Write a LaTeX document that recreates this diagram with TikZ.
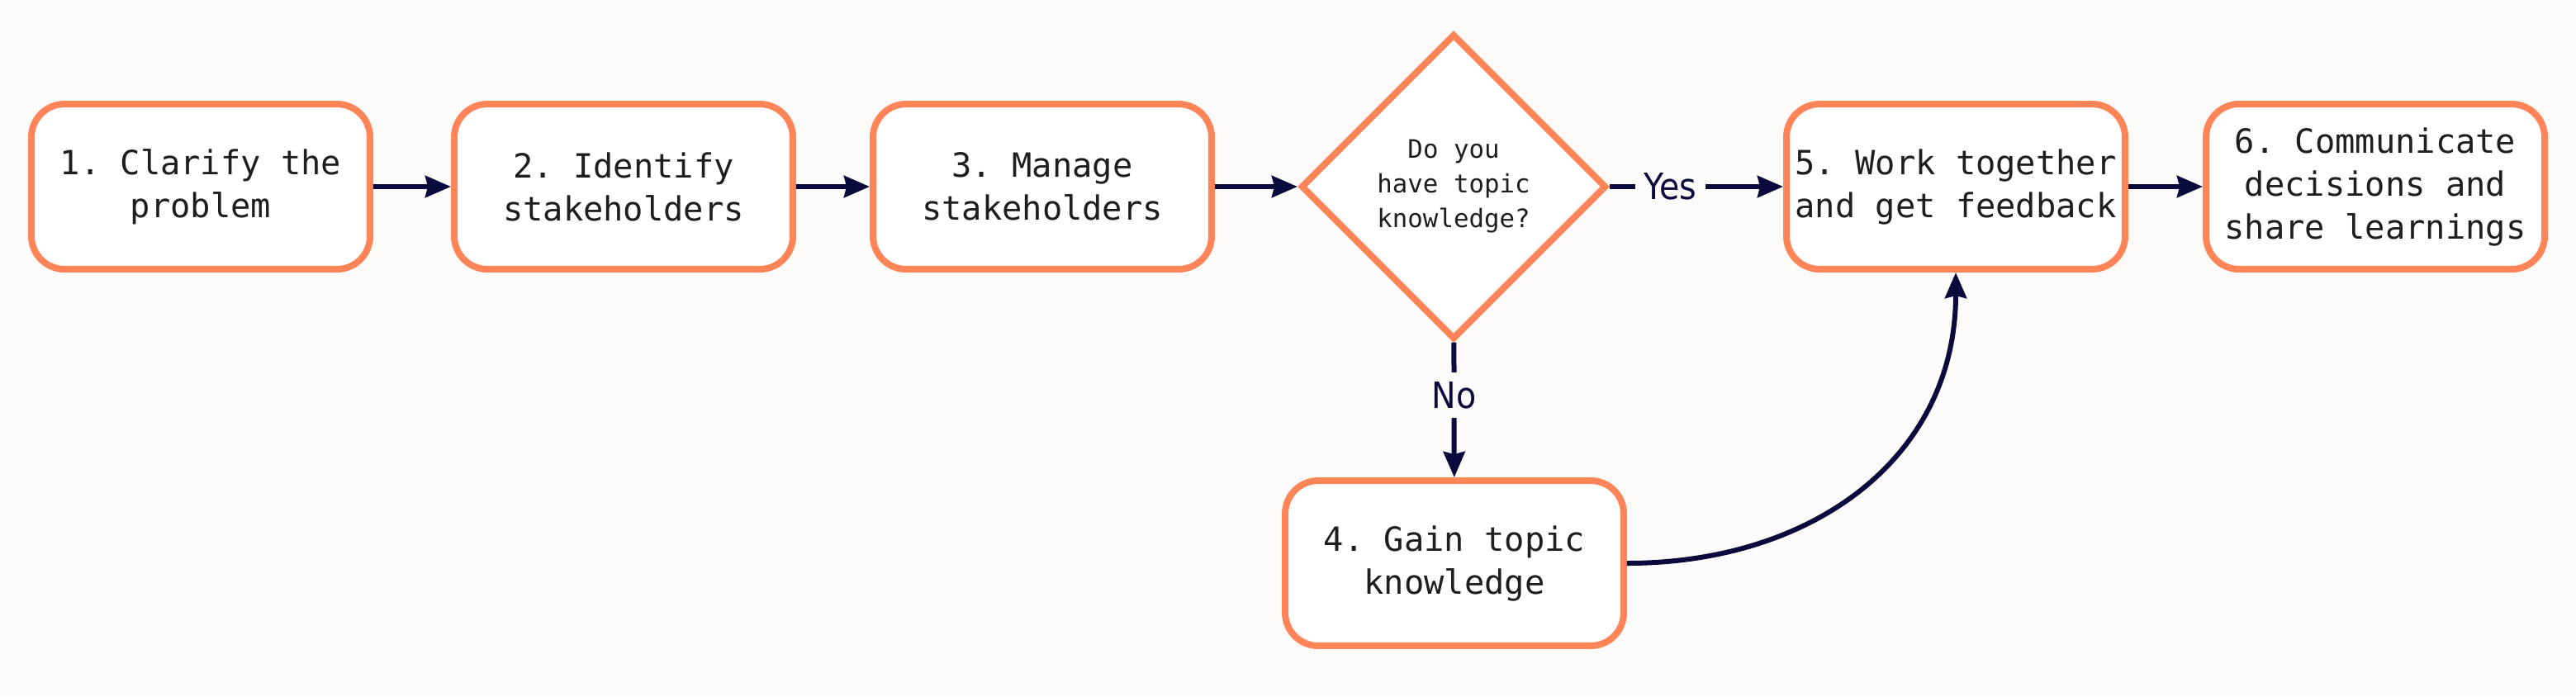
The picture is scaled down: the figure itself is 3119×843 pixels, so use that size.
\documentclass[tikz,border=0pt]{standalone}
\usepackage{fontspec}
\setmonofont{DejaVu Sans Mono}
\newfontfamily\labelfont[FakeStretch=0.9]{DejaVu Sans}
\usetikzlibrary{shapes.geometric,arrows.meta}
\definecolor{bgc}{HTML}{FDFBF9}
\definecolor{boxline}{HTML}{FF8559}
\definecolor{arrowc}{HTML}{0A0A3C}
\definecolor{textc}{HTML}{1E1E1E}
\tikzset{
stepbox/.style={draw=boxline,fill=white,line width=0.16cm,rounded corners=0.8cm,
  minimum width=8.2cm,minimum height=4cm,align=center,text=textc,
  font=\ttfamily\fontsize{23}{29.6}\selectfont},
question/.style={diamond,draw=boxline,fill=white,line width=0.16cm,minimum size=7.4cm,
  inner sep=0pt,align=center,text=textc,font=\ttfamily\fontsize{17.5}{23.9}\selectfont},
flow/.style={draw=arrowc,line width=0.12cm,-{Stealth[length=0.62cm,width=0.52cm,inset=0.06cm]}},
answer/.style={fill=bgc,text=arrowc,inner sep=0.22cm,font=\labelfont\fontsize{25}{30}\selectfont}
}
\begin{document}
\begin{tikzpicture}[x=0.02cm,y=-0.02cm]
\fill[bgc] (0,0) rectangle (3119,843);
\useasboundingbox (0,0) rectangle (3119,843);
\node[stepbox] (s1) at (243,226) {1. Clarify the\\problem};
\node[stepbox] (s2) at (755,226) {2. Identify\\stakeholders};
\node[stepbox] (s3) at (1262,226) {3. Manage\\stakeholders};
\node[question] (q) at (1760,226) {Do you\\have topic\\knowledge?};
\node[stepbox] (s4) at (1761,682) {4. Gain topic\\knowledge};
\node[stepbox] (s5) at (2368,226) {5. Work together\\and get feedback};
\node[stepbox] (s6) at (2876,226) {6. Communicate\\decisions and\\share learnings};

\draw[flow] (s1) -- (s2);
\draw[flow] (s2) -- (s3);
\draw[flow] (s3) -- (q);
\draw[flow] (q) -- node[answer,pos=0.35]{Yes} (s5);
\draw[flow] (q) -- node[answer,pos=0.39]{No} (s4);
\draw[flow] (s4.east) to[out=0,in=-90,looseness=1.08] (s5.south);
\draw[flow] (s5) -- (s6);
\end{tikzpicture}
\end{document}
